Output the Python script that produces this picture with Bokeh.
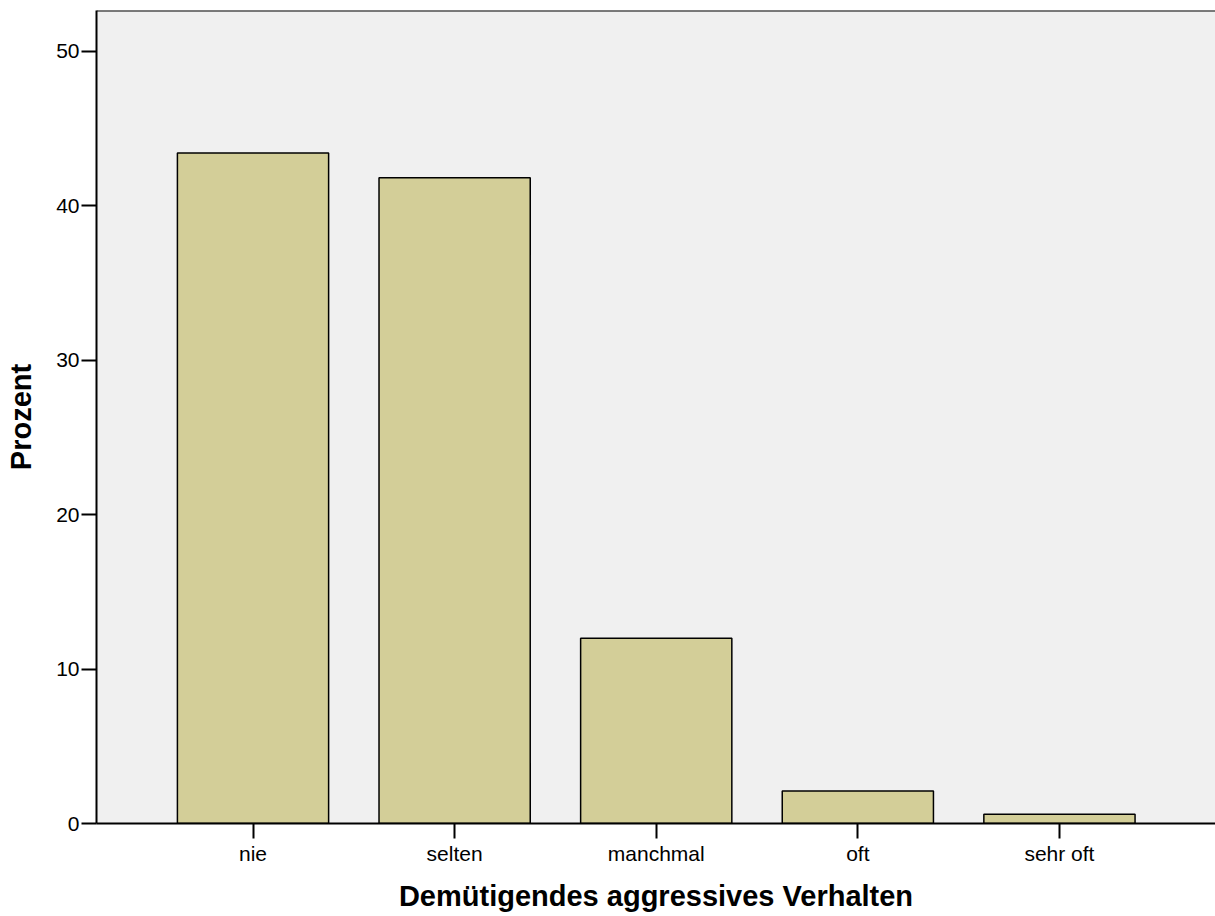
from bokeh.plotting import figure
from bokeh.models import Range1d, FixedTicker, ColumnDataSource, Span
from bokeh.embed import file_html
from bokeh.resources import INLINE

categories = ["nie", "selten", "manchmal", "oft", "sehr oft"]
percent = [43.4, 41.8, 12.0, 2.1, 0.6]
y_ticks = [0, 10, 20, 30, 40, 50]
x_title = "Demütigendes aggressives Verhalten"
y_title = "Prozent"

positions = list(range(1, len(categories) + 1))
src = ColumnDataSource(dict(x=positions, top=percent, cat=categories))

FONT = "Liberation Sans"
Y_END = 52.63

p = figure(width=1215, height=914, output_backend="svg", toolbar_location=None,
           x_range=Range1d(0.2237, 5.774), y_range=Range1d(0, Y_END),
           min_border_left=96, min_border_right=0, min_border_top=10,
           min_border_bottom=91)

p.vbar(x="x", top="top", width=0.75, source=src, fill_color="#d3ce98",
       line_color="black", line_width=1.5)

p.background_fill_color = "#f0f0f0"
p.border_fill_color = "white"
p.outline_line_color = None
p.grid.visible = False
p.add_layout(Span(location=Y_END, dimension="width", line_color="black", line_width=2))

xa = p.xaxis[0]
xa.ticker = FixedTicker(ticks=positions)
xa.major_label_overrides = {pos: c for pos, c in zip(positions, categories)}
xa.axis_label = x_title
ya = p.yaxis[0]
ya.ticker = FixedTicker(ticks=y_ticks)
ya.axis_label = y_title

for ax in (xa, ya):
    ax.axis_line_color = "black"
    ax.axis_line_width = 2
    ax.major_tick_line_color = "black"
    ax.major_tick_line_width = 2
    ax.major_tick_in = 0
    ax.major_tick_out = 15
    ax.minor_tick_line_color = None
    ax.major_label_text_font = FONT
    ax.major_label_text_font_size = "21px"
    ax.major_label_text_color = "black"
    ax.axis_label_text_font = FONT
    ax.axis_label_text_font_size = "29px"
    ax.axis_label_text_font_style = "bold"
    ax.axis_label_text_color = "black"

xa.major_label_standoff = 3
xa.axis_label_standoff = 12
ya.major_label_standoff = 2
ya.axis_label_standoff = 16

open("out.html", "w").write(file_html(p, INLINE))
